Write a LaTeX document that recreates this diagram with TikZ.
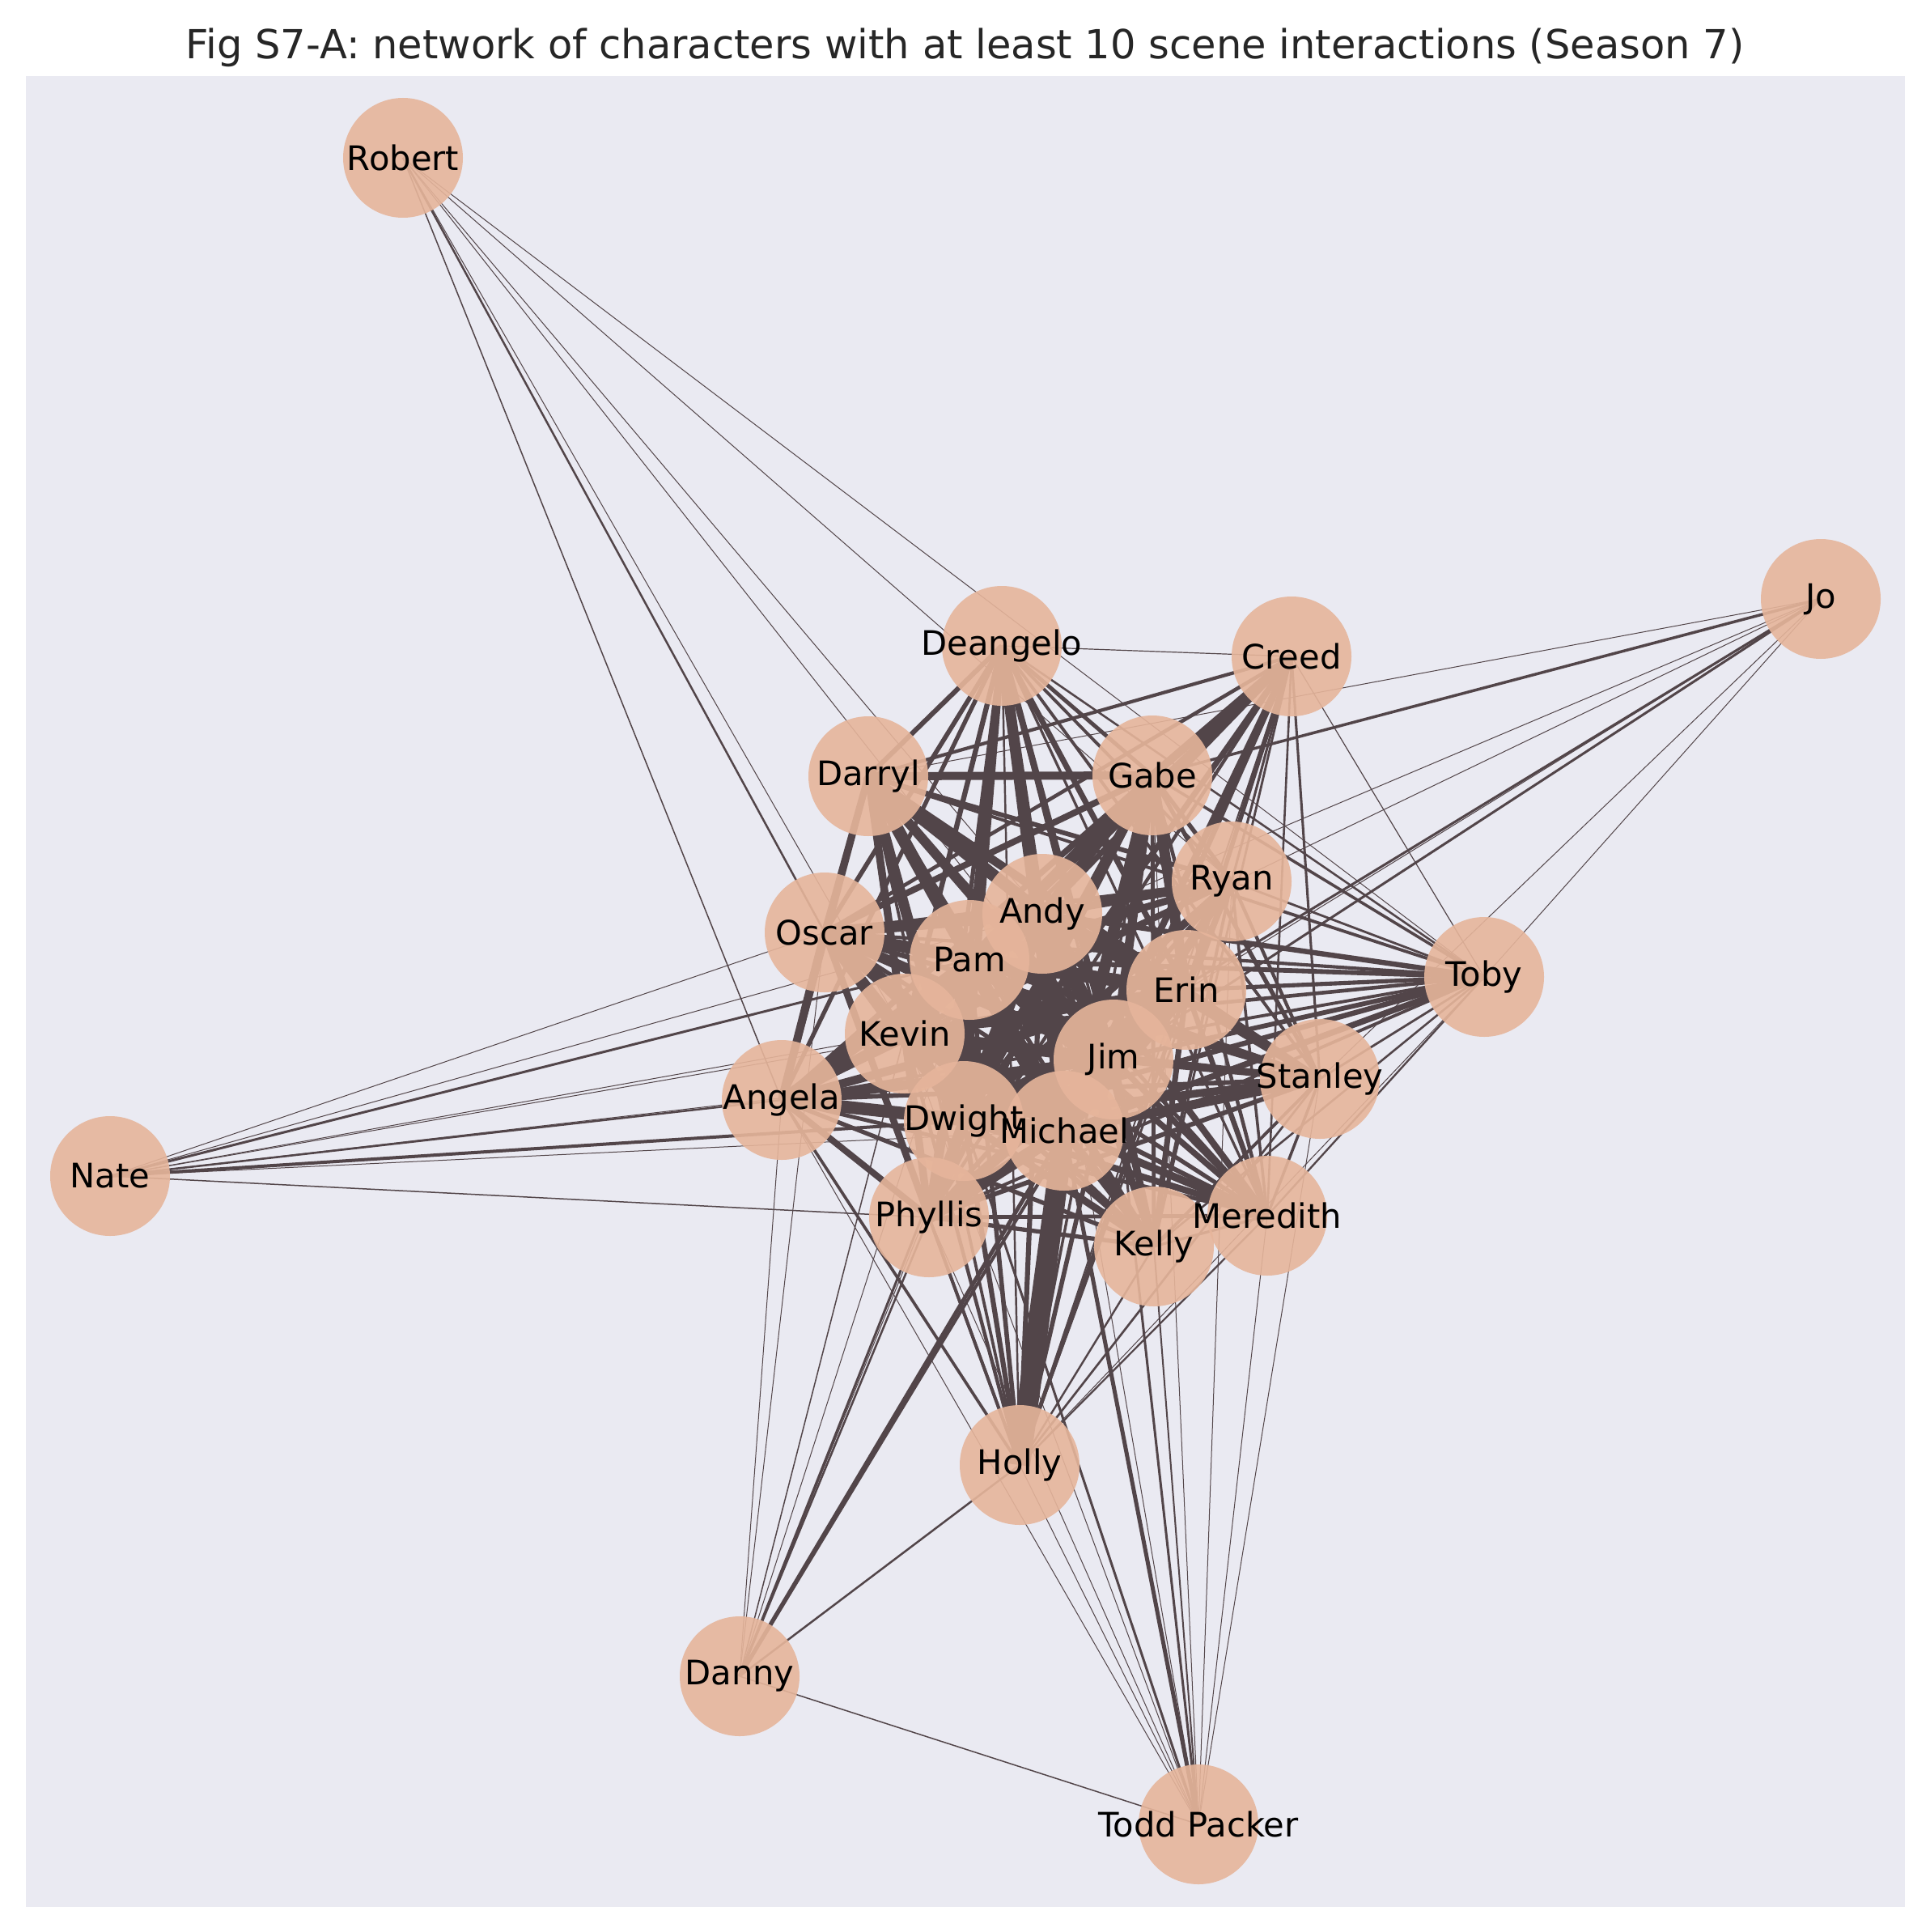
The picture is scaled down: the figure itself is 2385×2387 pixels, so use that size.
\documentclass[tikz,border=0pt]{standalone}
\usepackage{fontspec}
\setmainfont{DejaVu Sans}
\definecolor{bgc}{HTML}{EAEAF2}
\definecolor{edgec}{HTML}{524549}
\definecolor{nodec}{HTML}{E6B59B}
\definecolor{titlec}{HTML}{262626}
% base strengths for core edges
\def\bMichael{1.0}\def\bDwight{0.95}\def\bAndy{0.95}\def\bJim{0.92}\def\bPam{0.92}
\def\bErin{0.88}\def\bKevin{0.85}\def\bOscar{0.82}\def\bAngela{0.8}\def\bPhyllis{0.8}
\def\bDarryl{0.8}\def\bGabe{0.78}\def\bRyan{0.72}\def\bStanley{0.72}\def\bKelly{0.7}
\def\bMeredith{0.68}\def\bCreed{0.65}\def\bDeangelo{0.7}\def\bHolly{0.62}\def\bToby{0.63}
% overrides (px)
\expandafter\def\csname ovMichaelHolly\endcsname{26}
\expandafter\def\csname ovMichaelDwight\endcsname{20}
\expandafter\def\csname ovJimPam\endcsname{18}
\expandafter\def\csname ovAndyErin\endcsname{18}
\expandafter\def\csname ovDwightJim\endcsname{15}
\expandafter\def\csname ovAndyDarryl\endcsname{15}
\expandafter\def\csname ovMichaelDeangelo\endcsname{13}
\expandafter\def\csname ovAndyDeangelo\endcsname{9}
\expandafter\def\csname ovErinGabe\endcsname{13}
\expandafter\def\csname ovAndyGabe\endcsname{12}
\expandafter\def\csname ovGabeCreed\endcsname{10}
\expandafter\def\csname ovDwightAngela\endcsname{13}
\expandafter\def\csname ovKevinAngela\endcsname{12}
\expandafter\def\csname ovOscarAngela\endcsname{10}
\expandafter\def\csname ovDarrylGabe\endcsname{10}
\expandafter\def\csname ovKevinOscar\endcsname{11}
\expandafter\def\csname ovCreedDeangelo\endcsname{1.2}
\expandafter\def\csname ovCreedToby\endcsname{1.2}
\expandafter\def\csname ovDarrylDeangelo\endcsname{6}
\expandafter\def\csname ovHollyToby\endcsname{1}
\begin{document}
\begin{tikzpicture}[x=0.3pt,y=-0.3pt,
  edge/.style={draw=edgec},
  person/.style={circle, fill=nodec, fill opacity=0.9, draw=none, minimum size=44.4pt, inner sep=0pt},
  lab/.style={text=black, font=\fontsize{12.5}{14}\selectfont, inner sep=0pt}]
\useasboundingbox (0,0) rectangle (2385,2387);
\fill[white] (0,0) rectangle (2385,2387);
\fill[bgc] (32,94) rectangle (2354,2356);
\node[anchor=base, text=titlec, font=\fontsize{14.85}{17}\selectfont, inner sep=0pt] (title) at (1192.5,73) {Fig S7-A: network of characters with at least 10 scene interactions (Season 7)};
% positions
\coordinate (Robert) at (498,195);
\coordinate (Jo) at (2250,740);
\coordinate (Deangelo) at (1238,798);
\coordinate (Creed) at (1596,811);
\coordinate (Darryl) at (1073,959);
\coordinate (Gabe) at (1424,958);
\coordinate (Ryan) at (1522,1089);
\coordinate (Andy) at (1288,1129);
\coordinate (Oscar) at (1019,1152);
\coordinate (Pam) at (1198,1186);
\coordinate (Toby) at (1834,1207);
\coordinate (Erin) at (1466,1223);
\coordinate (Kevin) at (1118,1277);
\coordinate (Jim) at (1376,1309);
\coordinate (Stanley) at (1631,1333);
\coordinate (Angela) at (966,1359);
\coordinate (Dwight) at (1191,1385);
\coordinate (Michael) at (1315,1397);
\coordinate (Nate) at (136,1453);
\coordinate (Phyllis) at (1148,1504);
\coordinate (Meredith) at (1566,1502);
\coordinate (Kelly) at (1426,1540);
\coordinate (Holly) at (1260,1810);
\coordinate (Danny) at (914,2071);
\coordinate (ToddPacker) at (1481,2254);
% core edges
\foreach \a [count=\i] in {Michael,Dwight,Andy,Jim,Pam,Erin,Kevin,Oscar,Angela,Phyllis,Darryl,Gabe,Ryan,Stanley,Kelly,Meredith,Creed,Deangelo,Holly,Toby}{
  \foreach \b [count=\j] in {Michael,Dwight,Andy,Jim,Pam,Erin,Kevin,Oscar,Angela,Phyllis,Darryl,Gabe,Ryan,Stanley,Kelly,Meredith,Creed,Deangelo,Holly,Toby}{
    \ifnum\j>\i
      \edef\wa{\csname b\a\endcsname}\edef\wb{\csname b\b\endcsname}
      \ifcsname ov\a\b\endcsname
        \edef\lw{\csname ov\a\b\endcsname}
      \else\ifcsname ov\b\a\endcsname
        \edef\lw{\csname ov\b\a\endcsname}
      \else
        \pgfmathsetmacro\lw{min(18,max(1,30*(\wa*\wb)^3))}
      \fi\fi
      \draw[edge, line width=0.3*\lw pt] (\a) -- (\b);
    \fi
  }
}
% peripheral edges
\foreach \a/\b/\w in {Robert/Toby/1, Robert/Ryan/1, Robert/Andy/1, Robert/Jim/1, Robert/Kevin/1, Robert/Oscar/2.5, Robert/Angela/1.5,
  Jo/Darryl/1, Jo/Gabe/3.5, Jo/Pam/1, Jo/Angela/1, Jo/Jim/3, Jo/Dwight/3, Jo/Stanley/1, Jo/Toby/1, Jo/Erin/1,
  Nate/Oscar/1, Nate/Andy/1, Nate/Pam/3, Nate/Erin/1, Nate/Kevin/1, Nate/Angela/2.5, Nate/Dwight/4, Nate/Michael/1, Nate/Jim/1, Nate/Phyllis/1.5,
  Danny/Oscar/1, Danny/Kevin/1.5, Danny/Pam/1, Danny/Phyllis/2.5, Danny/Andy/3, Danny/Dwight/1, Danny/Michael/5, Danny/Jim/4, Danny/Holly/2.5, Danny/ToddPacker/1.5, Danny/Angela/1,
  ToddPacker/Angela/1, ToddPacker/Holly/1, ToddPacker/Phyllis/1, ToddPacker/Kevin/1, ToddPacker/Dwight/3, ToddPacker/Michael/5, ToddPacker/Andy/1, ToddPacker/Jim/3, ToddPacker/Kelly/2, ToddPacker/Gabe/1, ToddPacker/Ryan/1, ToddPacker/Meredith/1, ToddPacker/Stanley/1}{
  \draw[edge, line width=0.3*\w pt] (\a) -- (\b);
}
% nodes
\foreach \n in {Robert,Jo,Deangelo,Creed,Darryl,Gabe,Ryan,Andy,Oscar,Pam,Toby,Erin,Kevin,Jim,Stanley,Angela,Dwight,Michael,Nate,Phyllis,Meredith,Kelly,Holly,Danny,ToddPacker}{
  \node[person] (c\n) at (\n) {};
}
% labels
\foreach \n in {Robert,Jo,Deangelo,Creed,Darryl,Gabe,Ryan,Andy,Oscar,Pam,Toby,Erin,Kevin,Jim,Stanley,Angela,Dwight,Michael,Nate,Phyllis,Meredith,Kelly,Holly,Danny}{
  \node[lab] (l\n) at (\n) {\n};
}
\node[lab] (lToddPacker) at (ToddPacker) {Todd Packer};
\end{tikzpicture}
\end{document}
